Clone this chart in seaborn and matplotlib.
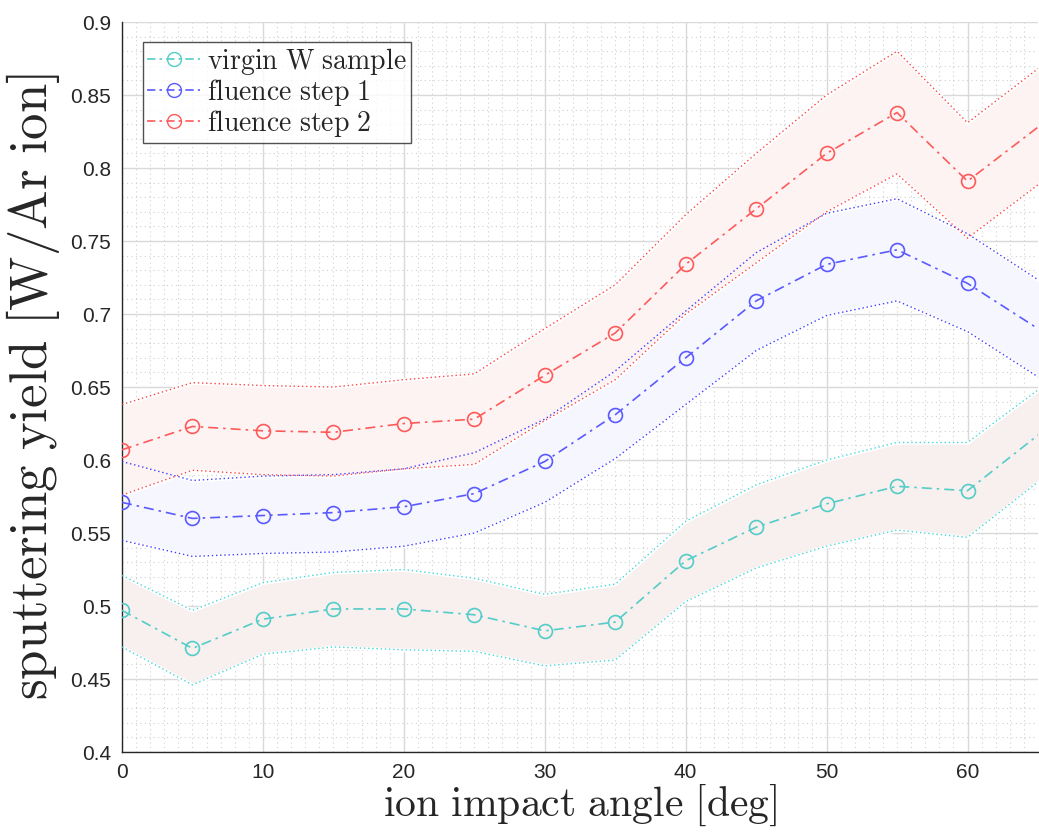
import numpy as np
import pandas as pd
import matplotlib
matplotlib.use("Agg")
import matplotlib.pyplot as plt
from matplotlib.ticker import MultipleLocator, FuncFormatter
from matplotlib.lines import Line2D
import seaborn as sns

# ion impact angles [deg]
angle = [0, 5, 10, 15, 20, 25, 30, 35, 40, 45, 50, 55, 60, 70]

# sputtering yield [W/Ar ion] with lower / upper uncertainty bounds
virgin = [0.497, 0.471, 0.491, 0.498, 0.498, 0.494, 0.483, 0.489, 0.531, 0.554, 0.570, 0.582, 0.579, 0.655]
virgin_hi = [0.521, 0.497, 0.516, 0.523, 0.525, 0.519, 0.508, 0.515, 0.558, 0.583, 0.600, 0.612, 0.612, 0.684]
virgin_lo = [0.472, 0.446, 0.467, 0.472, 0.470, 0.469, 0.459, 0.463, 0.503, 0.526, 0.541, 0.552, 0.547, 0.623]

step1 = [0.571, 0.560, 0.562, 0.564, 0.568, 0.577, 0.599, 0.631, 0.670, 0.709, 0.734, 0.744, 0.721, 0.659]
step1_hi = [0.599, 0.586, 0.589, 0.590, 0.594, 0.605, 0.628, 0.661, 0.702, 0.742, 0.769, 0.779, 0.755, 0.692]
step1_lo = [0.545, 0.534, 0.536, 0.537, 0.541, 0.550, 0.571, 0.601, 0.638, 0.675, 0.699, 0.709, 0.688, 0.626]

step2 = [0.607, 0.623, 0.620, 0.619, 0.625, 0.628, 0.658, 0.687, 0.734, 0.772, 0.810, 0.838, 0.791, 0.865]
step2_hi = [0.638, 0.653, 0.651, 0.650, 0.655, 0.659, 0.690, 0.720, 0.768, 0.810, 0.850, 0.880, 0.831, 0.905]
step2_lo = [0.576, 0.593, 0.590, 0.589, 0.594, 0.597, 0.627, 0.655, 0.700, 0.735, 0.770, 0.796, 0.752, 0.825]

labels = ["virgin W sample", "fluence step 1", "fluence step 2"]

series = [
    (labels[0], virgin, virgin_lo, virgin_hi, "#52cdc8", "#2fd3d3", "#f8efef"),
    (labels[1], step1, step1_lo, step1_hi, "#5a5aff", "#2a2aff", "#f6f6ff"),
    (labels[2], step2, step2_lo, step2_hi, "#ff5a5a", "#ff3030", "#fdf3f3"),
]

sns.set_theme(style="white")
plt.rcParams["mathtext.fontset"] = "cm"
plt.rcParams["font.family"] = ["Liberation Sans", "DejaVu Sans"]

fig = plt.figure(figsize=(10.39, 8.38), dpi=100)
ax = fig.add_axes([0.1174, 0.1026, 0.8816, 0.8711])

# uncertainty bands and their dotted bounds
for name, y, lo, hi, c_line, c_bound, c_fill in series:
    ax.fill_between(angle, lo, hi, color=c_fill, edgecolor="white", linewidth=2.5, zorder=1)
for name, y, lo, hi, c_line, c_bound, c_fill in series:
    for b in (lo, hi):
        sns.lineplot(x=angle, y=b, ax=ax, color=c_bound, linestyle=(0, (1, 2)),
                     linewidth=1.0, alpha=0.9, zorder=3)

# mean curves
frames = []
for name, y, lo, hi, c_line, c_bound, c_fill in series:
    frames.append(pd.DataFrame({"angle": angle, "yield": y, "series": name}))
df = pd.concat(frames, ignore_index=True)
palette = {s[0]: s[4] for s in series}
sns.lineplot(data=df, x="angle", y="yield", hue="series", palette=palette, ax=ax,
             marker="o", markersize=10, markerfacecolor="none", markeredgewidth=1.2,
             linestyle="-.", linewidth=1.2, legend=False, zorder=4)
for ln in ax.get_lines()[-3:]:
    ln.set_dashes([6, 3, 1.5, 3])
    ln.set_markeredgecolor(ln.get_color())

ax.set_xlim(0, 65)
ax.set_ylim(0.4, 0.9)
ax.xaxis.set_major_locator(MultipleLocator(10))
ax.xaxis.set_minor_locator(MultipleLocator(1))
ax.yaxis.set_major_locator(MultipleLocator(0.05))
ax.yaxis.set_minor_locator(MultipleLocator(0.01))
ax.yaxis.set_major_formatter(FuncFormatter(lambda v, p: f"{round(v, 2):g}"))

ax.grid(which="major", color="#d9d9d9", linewidth=1.0, linestyle="-", zorder=0)
ax.grid(which="minor", color="#d0d0d0", linewidth=0.8, linestyle=(0, (1, 3)), zorder=0)
ax.set_axisbelow(True)

ax.tick_params(axis="both", which="major", direction="in", length=6, width=1,
               labelsize=15, colors="#262626", pad=8)
ax.tick_params(axis="both", which="minor", length=0)
for side in ("top", "right"):
    ax.spines[side].set_visible(False)
for side in ("left", "bottom"):
    ax.spines[side].set_color("#262626")
    ax.spines[side].set_linewidth(1.0)

ax.set_xlabel(r"$\mathrm{ion\ impact\ angle\ [deg]}$", fontsize=30, color="#262626", labelpad=0)
ax.set_ylabel(r"$\mathrm{sputtering\ yield\ [W/Ar\ ion]}$", fontsize=38, color="#262626", labelpad=6)

# legend
handles = [Line2D([], [], color=s[4], linestyle="-.", dashes=[5, 2.5, 1.5, 2.5], linewidth=1.2,
                  marker="o", markersize=10, markerfacecolor="none", markeredgecolor=s[4])
           for s in series]
leg = ax.legend(handles, [r"$\mathrm{virgin\ W\ sample}$", r"$\mathrm{fluence\ step\ 1}$",
                          r"$\mathrm{fluence\ step\ 2}$"],
                loc="upper left", bbox_to_anchor=(0.023, 0.9726), borderaxespad=0,
                fontsize=20, frameon=True, fancybox=False, edgecolor="#262626",
                handlelength=1.9, borderpad=0.15, labelspacing=0.0, handletextpad=0.25)
leg.get_frame().set_linewidth(1.0)

fig.savefig("out.png", dpi=100)
